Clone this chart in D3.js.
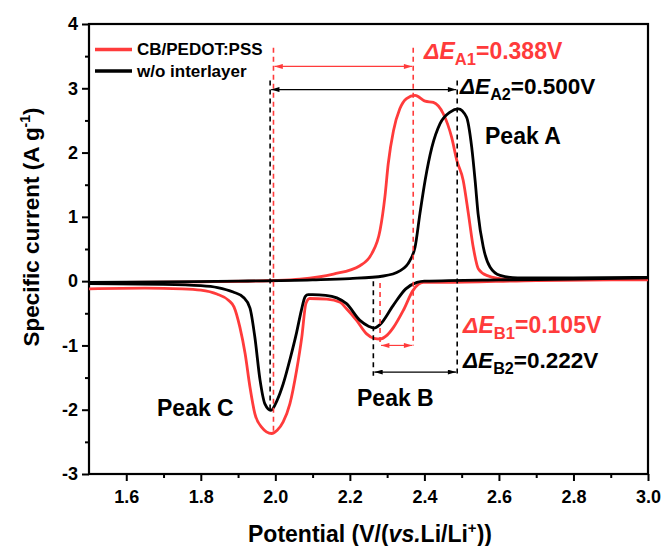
<!DOCTYPE html>
<html>
<head>
<meta charset="utf-8">
<script src="https://cdn.jsdelivr.net/npm/d3@7.9.0/dist/d3.min.js"></script>
<style>
  body { margin: 0; background: #fff; }
  text { font-family: "Liberation Sans", Arial, sans-serif; font-weight: bold; }
</style>
</head>
<body>
<div id="chart"></div>
<script>
// CV data: [potential (V), current (A/g)]
const redCathodic = [[1.50,-0.12],[1.65,-0.11],[1.75,-0.12],[1.80,-0.14],[1.843,-0.20],[1.875,-0.30],[1.889,-0.40],
  [1.905,-0.72],[1.919,-1.13],[1.932,-1.65],[1.945,-2.06],[1.963,-2.27],[1.990,-2.37],[2.005,-2.32],[2.021,-2.19],
  [2.039,-1.91],[2.057,-1.39],[2.071,-0.87],[2.082,-0.35],[2.092,-0.27],[2.138,-0.28],[2.174,-0.33],[2.191,-0.43],
  [2.218,-0.61],[2.245,-0.82],[2.265,-0.89],[2.281,-0.90],[2.300,-0.84],[2.317,-0.72],[2.343,-0.46],[2.370,-0.14],
  [2.397,-0.02],[2.45,-0.02],[2.7,0.01],[3.0,0.02]];
const redAnodic = [[1.50,-0.02],[1.80,-0.01],[2.0,0.01],[2.066,0.03],[2.156,0.11],[2.227,0.24],[2.259,0.43],
  [2.281,0.79],[2.294,1.31],[2.303,1.83],[2.317,2.34],[2.334,2.68],[2.352,2.84],[2.375,2.89],[2.402,2.80],
  [2.424,2.78],[2.451,2.60],[2.473,2.24],[2.487,1.88],[2.504,1.57],[2.518,1.05],[2.531,0.53],[2.545,0.19],
  [2.567,0.09],[2.621,0.03],[3.0,0.03]];
const blackCathodic = [[1.50,-0.04],[1.70,-0.05],[1.80,-0.07],[1.845,-0.10],[1.887,-0.17],[1.914,-0.25],[1.932,-0.42],
  [1.945,-0.87],[1.959,-1.54],[1.972,-1.91],[1.988,-2.01],[2.005,-1.85],[2.021,-1.60],[2.040,-1.20],[2.057,-0.80],
  [2.070,-0.45],[2.080,-0.24],[2.088,-0.21],[2.10,-0.21],[2.135,-0.22],[2.165,-0.26],[2.191,-0.35],[2.227,-0.61],
  [2.250,-0.70],[2.265,-0.73],[2.280,-0.68],[2.316,-0.38],[2.350,-0.12],[2.380,-0.02],[2.40,0.00],[2.6,0.02],
  [2.8,0.03],[3.0,0.05]];
const blackAnodic = [[1.50,-0.02],[1.70,-0.01],[1.90,0.00],[2.10,0.02],[2.20,0.04],[2.29,0.08],[2.334,0.16],
  [2.361,0.32],[2.375,0.53],[2.388,1.05],[2.402,1.57],[2.420,2.08],[2.442,2.45],[2.469,2.63],[2.491,2.68],
  [2.513,2.55],[2.527,2.08],[2.536,1.57],[2.544,1.05],[2.558,0.53],[2.576,0.22],[2.603,0.09],[2.65,0.05],
  [2.8,0.05],[3.0,0.06]];

const seriesNames = ["CB/PEDOT:PSS", "w/o interlayer"];
const seriesColors = ["#ff3b3b", "#000000"];

// peak positions [C, B, A] and separations
const peakRed = [1.995, 2.281, 2.370];
const peakBlack = [1.986, 2.263, 2.488];
const deltaText = ["0.388V", "0.500V", "0.105V", "0.222V"];

const xMajor = [1.6, 1.8, 2.0, 2.2, 2.4, 2.6, 2.8, 3.0];
const xMinor = [1.7, 1.9, 2.1, 2.3, 2.5, 2.7, 2.9];
const yMajor = [-3, -2, -1, 0, 1, 2, 3, 4];
const yMinor = [-2.5, -1.5, -0.5, 0.5, 1.5, 2.5, 3.5];

const width = 663, height = 546;
const svg = d3.select("#chart").append("svg")
  .attr("width", width).attr("height", height);

const x = d3.scaleLinear().domain([1.5, 3.0]).range([89, 648]);
const y = d3.scaleLinear().domain([-3, 4]).range([474, 24]);

// axes
const fmtY = d => String(d);
svg.append("g").attr("transform", `translate(${x(1.5)},0)`)
  .call(d3.axisLeft(y).tickValues(yMajor).tickSize(7).tickPadding(4).tickFormat(fmtY))
  .call(g => g.select(".domain").remove());
svg.append("g").attr("transform", `translate(${x(1.5)},0)`)
  .call(d3.axisLeft(y).tickValues(yMinor).tickSize(4).tickFormat(""))
  .call(g => g.select(".domain").remove());
svg.append("g").attr("transform", `translate(0,${y(-3)})`)
  .call(d3.axisBottom(x).tickValues(xMajor).tickSize(7).tickPadding(9).tickFormat(d3.format(".1f")))
  .call(g => g.select(".domain").remove());
svg.append("g").attr("transform", `translate(0,${y(-3)})`)
  .call(d3.axisBottom(x).tickValues(xMinor).tickSize(4).tickFormat(""))
  .call(g => g.select(".domain").remove());
svg.selectAll(".tick line").attr("stroke", "#000").attr("stroke-width", 2);
svg.selectAll(".tick text").attr("fill", "#000").style("font-size", "18px")
  .style("font-family", '"Liberation Sans", Arial, sans-serif').style("font-weight", "bold");

// frame
svg.append("rect")
  .attr("x", x(1.5)).attr("y", y(4))
  .attr("width", x(3.0) - x(1.5)).attr("height", y(-3) - y(4))
  .attr("fill", "none").attr("stroke", "#000").attr("stroke-width", 2.2);

// axis titles
const yt = svg.append("text")
  .attr("transform", "translate(39,227) rotate(-90)")
  .attr("text-anchor", "middle").style("font-size", "22.5px");
yt.append("tspan").text("Specific current (A g");
yt.append("tspan").attr("dy", -9).style("font-size", "14px").text("-1");
yt.append("tspan").attr("dy", 9).text(")");

const xt = svg.append("text")
  .attr("x", 370).attr("y", 542)
  .attr("text-anchor", "middle").style("font-size", "23px");
xt.append("tspan").text("Potential (V/(");
xt.append("tspan").style("font-style", "italic").text("vs.");
xt.append("tspan").text("Li/Li");
xt.append("tspan").attr("dy", -9).style("font-size", "15px").text("+");
xt.append("tspan").attr("dy", 9).text("))");

// curves
svg.append("clipPath").attr("id", "plotclip").append("rect")
  .attr("x", x(1.5)).attr("y", y(4)).attr("width", x(3.0) - x(1.5)).attr("height", y(-3) - y(4));
const line = d3.line().x(d => x(d[0])).y(d => y(d[1])).curve(d3.curveMonotoneX);
const curves = svg.append("g").attr("clip-path", "url(#plotclip)");
[[redCathodic, 0], [redAnodic, 0], [blackCathodic, 1], [blackAnodic, 1]].forEach(([data, i]) => {
  curves.append("path").datum(data)
    .attr("fill", "none").attr("stroke", seriesColors[i])
    .attr("stroke-width", 2.8).attr("stroke-linejoin", "round")
    .attr("d", line);
});

// arrow markers
const defs = svg.append("defs");
seriesColors.forEach((c, i) => {
  defs.append("marker").attr("id", "arrowEnd" + i)
    .attr("viewBox", "0 0 10 6").attr("refX", 10).attr("refY", 3)
    .attr("markerWidth", 10).attr("markerHeight", 5).attr("markerUnits", "userSpaceOnUse")
    .attr("orient", "auto")
    .append("path").attr("d", "M0,0L10,3L0,6Z").attr("fill", c);
  defs.append("marker").attr("id", "arrowStart" + i)
    .attr("viewBox", "0 0 10 6").attr("refX", 0).attr("refY", 3)
    .attr("markerWidth", 10).attr("markerHeight", 5).attr("markerUnits", "userSpaceOnUse")
    .attr("orient", "auto")
    .append("path").attr("d", "M10,0L0,3L10,6Z").attr("fill", c);
});

// dashed guide lines: [V, top, bottom, color index]
const guides = [
  [peakRed[0], 3.63, -2.37, 0], [peakBlack[0], 3.12, -2.01, 1],
  [peakRed[2], 3.63, -1.00, 0], [peakBlack[2], 3.12, -1.45, 1],
  [peakRed[1], -0.03, -1.00, 0], [peakBlack[1], 0.00, -1.47, 1]
];
svg.append("g").selectAll("line").data(guides).join("line")
  .attr("x1", d => x(d[0])).attr("x2", d => x(d[0]))
  .attr("y1", d => y(d[1])).attr("y2", d => y(d[2]))
  .attr("stroke", d => seriesColors[d[3]]).attr("stroke-width", 1.6)
  .attr("stroke-dasharray", "5,4");

// double-headed arrows: [from V, to V, level, color index]
const arrows = [
  [peakRed[0], peakRed[2], 3.34, 0], [peakBlack[0], peakBlack[2], 2.98, 1],
  [peakRed[1], peakRed[2], -1.00, 0], [peakBlack[1], peakBlack[2], -1.415, 1]
];
svg.append("g").selectAll("line").data(arrows).join("line")
  .attr("x1", d => x(d[0]) + 1).attr("x2", d => x(d[1]) - 1)
  .attr("y1", d => y(d[2])).attr("y2", d => y(d[2]))
  .attr("stroke", d => seriesColors[d[3]]).attr("stroke-width", 1.2)
  .attr("marker-start", d => `url(#arrowStart${d[3]})`)
  .attr("marker-end", d => `url(#arrowEnd${d[3]})`);

// delta labels
function deltaLabel(px, py, sub, val, color, size) {
  const t = svg.append("text").attr("x", px).attr("y", py)
    .attr("fill", color).style("font-size", size + "px");
  t.append("tspan").style("font-style", "italic").text("\u0394E");
  t.append("tspan").attr("dy", size * 0.25).style("font-size", (size * 0.72) + "px").text(sub);
  t.append("tspan").attr("dy", -size * 0.25).text("=" + val);
}
deltaLabel(424, 59, "A1", deltaText[0], seriesColors[0], 23);
deltaLabel(460, 94, "A2", deltaText[1], seriesColors[1], 22.5);
deltaLabel(463, 333, "B1", deltaText[2], seriesColors[0], 23);
deltaLabel(463, 368, "B2", deltaText[3], seriesColors[1], 22.5);

// peak names
[["Peak A", 485, 144], ["Peak B", 357, 406], ["Peak C", 157, 416]].forEach(([s, px, py]) => {
  svg.append("text").attr("x", px).attr("y", py).style("font-size", "23px").text(s);
});

// legend
seriesNames.forEach((name, i) => {
  const ly = 49.5 + i * 21.5;
  svg.append("line").attr("x1", 95).attr("x2", 132).attr("y1", ly).attr("y2", ly)
    .attr("stroke", seriesColors[i]).attr("stroke-width", 3.5);
  svg.append("text").attr("x", 137).attr("y", ly + 5.5).style("font-size", "17px").text(name);
});
</script>
</body>
</html>
